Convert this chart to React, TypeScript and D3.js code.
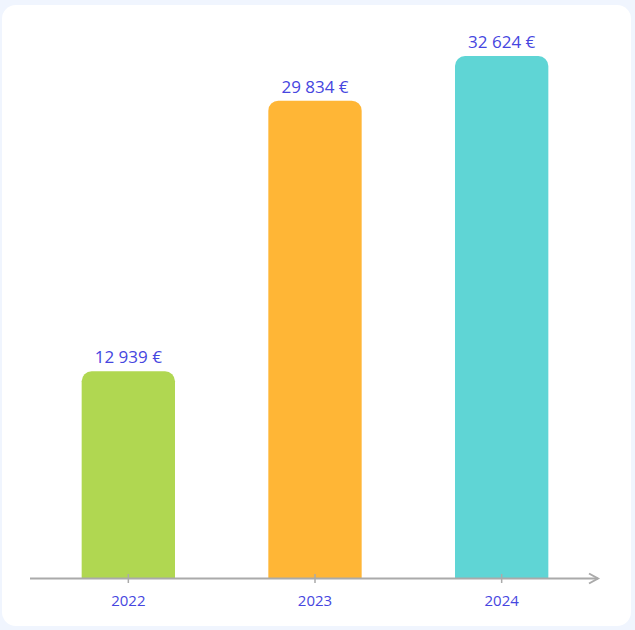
import React from "react";
import * as d3 from "d3";

const categories = ["2022", "2023", "2024"];
const values = [12939, 29834, 32624];
const labels = ["12 939 €", "29 834 €", "32 624 €"];
const colors = ["#b0d751", "#ffb636", "#5fd5d5"];

const W = 635;
const H = 630;

function topRoundedRect(x: number, y: number, w: number, h: number, r: number) {
  const rr = Math.min(r, h, w / 2);
  const p = d3.path();
  p.moveTo(x, y + h);
  p.lineTo(x, y + rr);
  p.arcTo(x, y, x + rr, y, rr);
  p.lineTo(x + w - rr, y);
  p.arcTo(x + w, y, x + w, y + rr, rr);
  p.lineTo(x + w, y + h);
  p.closePath();
  return p.toString();
}

export default function App() {
  const axisY = 578.5;
  const x = d3.scaleBand<string>().domain(categories).range([35, 595]).paddingInner(0.5).paddingOuter(0.25);
  const y = d3.scaleLinear().domain([0, 32624]).range([axisY, 56]);
  const font = "'Open Sans', 'Noto Sans', sans-serif";
  const textColor = "#4646e0";
  return (
    <div style={{ position: "fixed", left: 0, top: 0 }}>
      <svg width={W} height={H} style={{ display: "block" }}>
        <rect x={0} y={0} width={W} height={H} fill="#f0f5fe" />
        <rect x={2} y={5} width={629} height={621} rx={14} ry={14} fill="#ffffff" />
        {categories.map((c, i) => {
          const bx = x(c)!;
          const bw = x.bandwidth();
          const top = y(values[i]);
          return (
            <g key={c}>
              <path d={topRoundedRect(bx, top, bw, axisY - top, 10)} fill={colors[i]} />
              <text
                x={bx + bw / 2}
                y={top - 8}
                textAnchor="middle"
                fontFamily={font}
                fontSize={17}
                fill={textColor}
              >
                {labels[i]}
              </text>
            </g>
          );
        })}
        <line x1={30} x2={598} y1={axisY} y2={axisY} stroke="#aaaaaa" strokeWidth={2} />
        <path d={`M589,${axisY - 5} L598,${axisY} L589,${axisY + 5}`} fill="none" stroke="#aaaaaa" strokeWidth={2} />
        {categories.map((c) => {
          const cx = x(c)! + x.bandwidth() / 2;
          return (
            <g key={"t" + c}>
              <line x1={cx} x2={cx} y1={574} y2={583} stroke="#aaaaaa" strokeWidth={1.5} />
              <text x={cx} y={606} textAnchor="middle" fontFamily={font} fontSize={15} fill={textColor}>
                {c}
              </text>
            </g>
          );
        })}
      </svg>
    </div>
  );
}
